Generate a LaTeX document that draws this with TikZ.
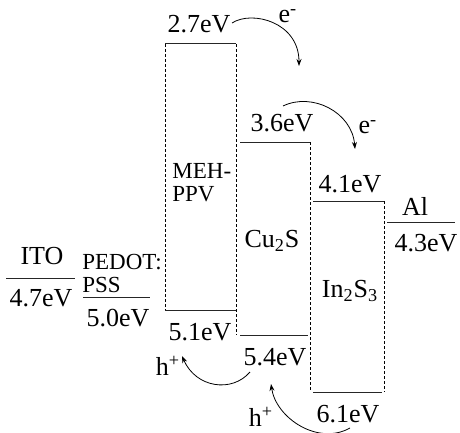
\documentclass[tikz,border=0pt]{standalone}
\usepackage{fontspec}
\setmainfont{Liberation Serif}
\usetikzlibrary{positioning,arrows.meta}

\begin{document}
\begin{tikzpicture}[x=0.5pt,y=-0.5pt,
    level/.style={draw=black!85,line width=0.5pt},
    wall/.style={draw,dashed,dash pattern=on 1.5pt off 1pt,line width=0.35pt},
    lbl/.style={font=\fontsize{13}{15}\selectfont,inner sep=0pt},
    small/.style={font=\fontsize{11.5}{11.5}\selectfont,inner sep=0pt,align=left},
    hop/.style={-{Stealth[length=3.5pt,width=2.5pt]},line width=0.4pt}
    ]
    \useasboundingbox (0,0) rectangle (460,433);

    % band corners
    \coordinate (mtl) at (165,44);  \coordinate (mtr) at (236,44);
    \coordinate (mbl) at (165,310); \coordinate (mbr) at (236,310);
    \coordinate (cbr) at (236,335);
    \coordinate (ctl) at (240,142); \coordinate (ctr) at (310,142);
    \coordinate (cbl) at (240,335); \coordinate (cbx) at (308,335);
    \coordinate (itl) at (313,201); \coordinate (itr) at (384,201);
    \coordinate (ibl) at (310,392); \coordinate (ibr) at (384,392);
    \coordinate (ibx) at (313,392); \coordinate (ibw) at (382,392);
    \coordinate (ito1) at (6,278);  \coordinate (ito2) at (75,278);
    \coordinate (ped1) at (83,297); \coordinate (ped2) at (150,297);
    \coordinate (al1) at (387,222); \coordinate (al2) at (455,222);

    \draw[level] (mtl) -- (mtr);
    \draw[level] (mbl) -- (mbr);
    \draw[wall] (mtl) -- (mbl);
    \draw[wall] (mtr) -- (cbr);
    \draw[level] (ctl) -- (ctr);
    \draw[level] (cbl) -- (cbx);
    \draw[wall] (ctr) -- (ibl);
    \draw[level] (itl) -- (itr);
    \draw[level] (ibx) -- (ibw);
    \draw[wall] (itr) -- (ibr);
    \draw[level] (ito1) -- (ito2);
    \draw[level] (ped1) -- (ped2);
    \draw[level] (al1) -- (al2);

    % energies
    \node (e27) [lbl] at (199,24) {2.7eV};
    \node (e36) [lbl] at (282,123) {3.6eV};
    \node (e41) [lbl] at (350,184) {4.1eV};
    \node (e43) [lbl] at (426,243) {4.3eV};
    \node (e47) [lbl] at (41,298) {4.7eV};
    \node (e50) [lbl] at (118,318) {5.0eV};
    \node (e51) [lbl] at (200,332) {5.1eV};
    \node (e54) [lbl] at (275,357) {5.4eV};
    \node (e61) [lbl] at (348,414) {6.1eV};

    % materials
    \node (ito) [lbl] at (42,256) {ITO};
    \node (pedot) [small,anchor=west] at (82,273) {PEDOT:\\PSS};
    \node (meh) [small,anchor=west] at (172,183) {MEH-\\PPV};
    \node (cus) [lbl] at (272,241) {Cu\textsubscript{2}S};
    \node (ins) [lbl] at (350,291) {In\textsubscript{2}S\textsubscript{3}};
    \node (al) [lbl] at (415,206) {Al};

    % carriers
    \node (el1) [lbl] at (288,16) {e\textsuperscript{-}};
    \node (el2) [lbl] at (368,127) {e\textsuperscript{-}};
    \node (ho1) [lbl] at (168,366) {h\textsuperscript{+}};
    \node (ho2) [lbl] at (261,417) {h\textsuperscript{+}};

    \coordinate (a1) at (232,23);  \coordinate (b1) at (299,66);
    \coordinate (a2) at (283,106); \coordinate (b2) at (355,149);
    \coordinate (a3) at (250,372); \coordinate (b3) at (182,356);
    \coordinate (a4) at (350,428); \coordinate (b4) at (271,384);

    \draw[hop] (a1) .. controls (252,10) and (299,22) .. (b1);
    \draw[hop] (a2) .. controls (312,92) and (352,112) .. (b2);
    \draw[hop] (a3) .. controls (232,393) and (196,388) .. (b3);
    \draw[hop] (a4) .. controls (318,446) and (276,418) .. (b4);

\end{tikzpicture}
\end{document}
